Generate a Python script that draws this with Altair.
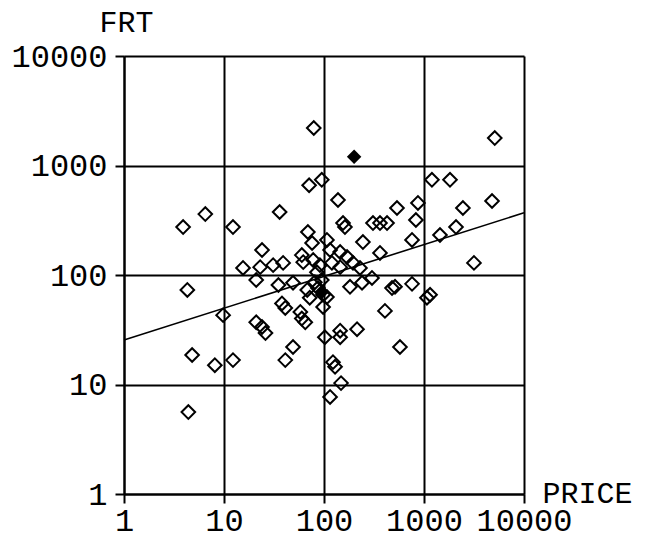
import altair as alt
import pandas as pd

# open diamonds (PRICE, FRT)
price = [79, 5100, 95, 71, 1200, 1820, 870, 138, 537, 2450, 4790, 830, 2090, 1445,
         759, 3160, 155, 162, 309, 427, 363, 245, 363, 107, 115, 145, 170, 120, 145,
         195, 182, 240, 302, 479, 513, 759, 1150, 1070, 407, 575, 145, 145, 214, 102,
         123, 129, 148, 115, 98, 107, 98, 87, 95, 68, 72, 85, 62, 60, 76, 69, 36, 24,
         15.5, 23, 31, 39, 21, 35, 49, 38, 41, 58, 60, 65, 21, 24, 26, 49, 41, 3.9,
         6.5, 12.3, 4.3, 9.8, 4.8, 8.1, 12.3, 4.4, 78, 91, 81, 229]
frt = [2200, 1780, 740, 660, 740, 740, 455, 484, 409, 409, 474, 318, 274, 232,
       209, 129, 298, 274, 298, 298, 298, 200, 159, 209, 169, 162, 146, 129, 118,
       129, 78, 85, 94, 76, 78, 83, 66, 62, 47, 22, 31, 27, 32, 27,
       16, 14.5, 10.3, 7.7, 51, 63, 66, 76, 90, 73, 62, 106, 131, 152, 196, 247, 376, 169,
       116, 118, 123, 129, 90, 81, 85, 55, 50, 46, 40, 37, 37, 33.5, 29.5, 22, 16.7, 274,
       360, 274, 73, 43, 18.6, 15, 16.7, 5.6, 137, 123, 86, 116]

# filled diamonds
price_filled = [200, 95]
frt_filled = [1200, 70]

# regression line end points
line_price = [1, 10000]
line_frt = [25.5, 370]

ticks = [1, 10, 100, 1000, 10000]

FONT = "Courier New, Liberation Mono, monospace"

df_open = pd.DataFrame({"PRICE": price, "FRT": frt})
df_fill = pd.DataFrame({"PRICE": price_filled, "FRT": frt_filled})
df_line = pd.DataFrame({"PRICE": line_price, "FRT": line_frt})

xscale = alt.Scale(type="log", domain=[1, 10000], nice=False)
yscale = alt.Scale(type="log", domain=[1, 10000], nice=False)

xaxis = alt.Axis(values=ticks, format="d", title="PRICE", grid=True,
                 titleX=418, titleY=-1, titleAlign="left", titleBaseline="middle",
                 titleAngle=0, labelOverlap=False, labelFlush=False,
                 labelBaseline="top", labelPadding=2)
yaxis = alt.Axis(values=ticks, format="d", title="FRT", grid=True,
                 titleX=2, titleY=-34, titleAlign="center", titleBaseline="middle",
                 titleAngle=0, labelOverlap=False, labelFlush=False,
                 labelPadding=8)

points = alt.Chart(df_open).mark_point(
    shape="diamond", filled=False, size=185, stroke="black", strokeWidth=2, opacity=1
).encode(
    x=alt.X("PRICE:Q", scale=xscale, axis=xaxis),
    y=alt.Y("FRT:Q", scale=yscale, axis=yaxis),
)

filled = alt.Chart(df_fill).mark_point(
    shape="diamond", filled=True, size=210, color="black", opacity=1
).encode(
    x=alt.X("PRICE:Q", scale=xscale),
    y=alt.Y("FRT:Q", scale=yscale),
)

line = alt.Chart(df_line).mark_line(color="black", strokeWidth=1.6).encode(
    x=alt.X("PRICE:Q", scale=xscale),
    y=alt.Y("FRT:Q", scale=yscale),
)

chart = alt.layer(points, line, filled).properties(
    width=400, height=438,
    autosize=alt.AutoSizeParams(type="none"),
    padding={"left": 116, "top": 48, "right": 114, "bottom": 48},
    background="white",
).configure_view(stroke=None).configure_axis(
    domainColor="black", domainWidth=2,
    gridColor="black", gridWidth=2, gridOpacity=1,
    tickColor="black", tickWidth=2, tickSize=9,
    labelFont=FONT, labelFontSize=32, labelColor="black",
    titleFont=FONT, titleFontSize=30, titleColor="black", titleFontWeight="normal",
)

chart.save("out.html", embed_options={"renderer": "svg", "actions": False})
